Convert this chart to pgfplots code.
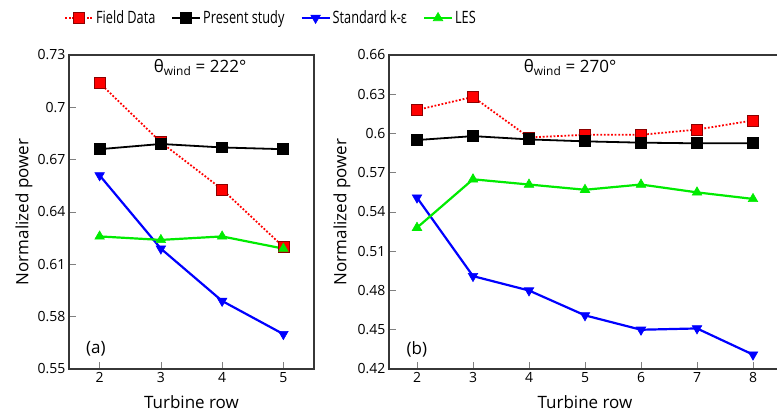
\documentclass[border=0pt]{standalone}
\usepackage{fontspec}
\setmainfont{Open Sans}
\newfontfamily\legendfont{Open Sans}[FakeStretch=0.75]
\usepackage{pgfplots}
\pgfplotsset{compat=1.18}

\definecolor{fieldred}{RGB}{255,0,0}
\definecolor{lesgreen}{RGB}{0,235,0}
\definecolor{kblue}{RGB}{0,0,255}
\definecolor{axisgray}{RGB}{55,55,55}

\pgfplotsset{
  turbine/.style={
    scale only axis,
    height=314pt,
    anchor=south west,
    axis line style={axisgray, line width=1.4pt},
    tick align=inside,
    major tick length=7pt,
    tick style={gray, line width=0.6pt},
    xtick pos=bottom, ytick pos=left,
    tick label style={font=\fontsize{14}{16}\selectfont},
    /pgf/number format/assume math mode=true,
    xtick distance=1,
    xlabel={Turbine row},
    ylabel={Normalized power},
    xlabel style={at={(axis description cs:0.5,0)}, anchor=north, yshift=-26pt, inner sep=0pt, font=\fontsize{17}{20}\selectfont},
    ylabel style={anchor=center, inner sep=0pt, font=\fontsize{17}{20}\selectfont},
    xmin=1.5,
    clip=false,
  },
  field/.style={fieldred, line width=1.8pt, dash pattern=on 1.8pt off 1.8pt,
    mark=square*, mark size=5.5pt,
    mark options={solid, fill=fieldred, draw=red!55!black, line width=0.6pt}},
  present/.style={black, line width=1.8pt, mark=square*, mark size=5pt,
    mark options={solid, fill=black}},
  kepsilon/.style={kblue, line width=2.2pt, mark=triangle*, mark size=5.5pt,
    mark options={solid, fill=kblue, rotate=180, line width=0.6pt}},
  les/.style={lesgreen, line width=2.2pt, mark=triangle*, mark size=5.5pt,
    mark options={solid, fill=lesgreen, line width=0.6pt}},
}

\begin{document}
\begin{tikzpicture}
\useasboundingbox (0pt,0pt) rectangle (777pt,-414pt);

% (a) wind direction 222 degrees
\begin{axis}[turbine,
  at={(69pt,-369pt)}, width=245pt,
  xmax=5.5,
  ymin=0.55, ymax=0.73,
  ytick={0.55,0.58,0.61,0.64,0.67,0.7,0.73},
  yticklabels={0.55,0.58,0.61,0.64,0.67,0.7,0.73},
  ylabel style={at={(axis description cs:-0.184,0.5)}},
  legend columns=4,
  legend style={draw=none, fill=none, inner sep=0pt,
    font=\legendfont\fontsize{17}{20}\selectfont,
    at={(axis description cs:-0.02,1.118)}, anchor=west,
    /tikz/every even column/.append style={column sep=14pt}},
  legend image code/.code={\draw[mark repeat=2, mark phase=2, #1]
    plot coordinates {(0pt,0pt) (14pt,0pt) (28pt,0pt)};},
]
\addplot[field] coordinates {(2,0.714) (3,0.680) (4,0.653) (5,0.620)};
\addlegendentry{Field Data}
\addplot[present] coordinates {(2,0.676) (3,0.679) (4,0.677) (5,0.676)};
\addlegendentry{Present study}
\addplot[kepsilon] coordinates {(2,0.661) (3,0.619) (4,0.589) (5,0.570)};
\addlegendentry{Standard k-ε}
\addplot[les] coordinates {(2,0.626) (3,0.624) (4,0.626) (5,0.619)};
\addlegendentry{LES}
\node[anchor=base, font=\fontsize{17}{20}\selectfont]
  at (rel axis cs:0.535,0.943) {θ\textsubscript{wind} = 222°};
\node[font=\fontsize{17}{20}\selectfont]
  at (rel axis cs:0.11,0.064) {(a)};
\end{axis}

% (b) wind direction 270 degrees
\begin{axis}[turbine,
  at={(389pt,-369pt)}, width=392pt,
  xmax=8.5,
  ymin=0.42, ymax=0.66,
  ytick={0.42,0.45,0.48,0.51,0.54,0.57,0.6,0.63,0.66},
  yticklabels={0.42,0.45,0.48,0.51,0.54,0.57,0.6,0.63,0.66},
  ylabel style={at={(axis description cs:-0.12,0.5)}},
]
\addplot[field] coordinates {(2,0.618) (3,0.628) (4,0.597) (5,0.599) (6,0.599) (7,0.603) (8,0.610)};
\addplot[present] coordinates {(2,0.595) (3,0.598) (4,0.5955) (5,0.594) (6,0.593) (7,0.5925) (8,0.5925)};
\addplot[kepsilon] coordinates {(2,0.551) (3,0.491) (4,0.480) (5,0.461) (6,0.450) (7,0.451) (8,0.431)};
\addplot[les] coordinates {(2,0.528) (3,0.565) (4,0.561) (5,0.557) (6,0.561) (7,0.555) (8,0.550)};
\node[anchor=base, font=\fontsize{17}{20}\selectfont]
  at (rel axis cs:0.462,0.943) {θ\textsubscript{wind} = 270°};
\node[font=\fontsize{17}{20}\selectfont]
  at (rel axis cs:0.071,0.064) {(b)};
\end{axis}
\end{tikzpicture}
\end{document}
